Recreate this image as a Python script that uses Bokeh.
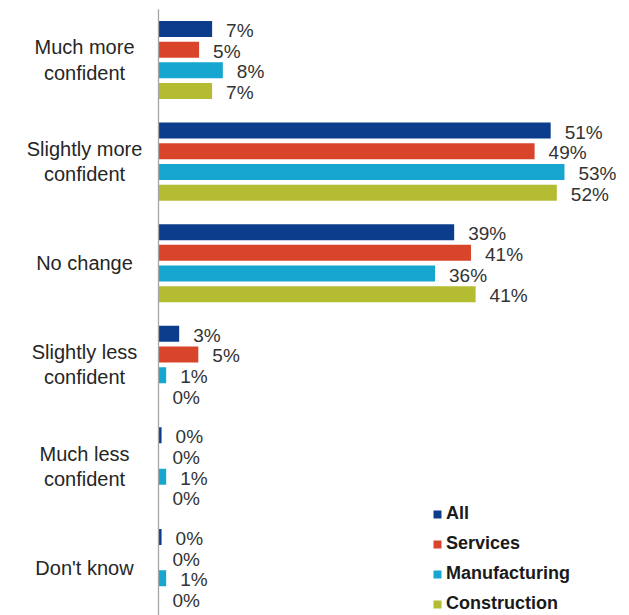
from bokeh.plotting import figure
from bokeh.models import ColumnDataSource, Range1d, Legend, LegendItem
from bokeh.core.properties import value
from bokeh.embed import file_html
from bokeh.resources import INLINE

categories = ["Much more\nconfident", "Slightly more\nconfident", "No change",
              "Slightly less\nconfident", "Much less\nconfident", "Don't know"]
series = ["All", "Services", "Manufacturing", "Construction"]
all_vals = [7.0, 51.2, 38.6, 2.7, 0.4, 0.4]
services_vals = [5.3, 49.1, 40.8, 5.2, 0.0, 0.0]
manufacturing_vals = [8.4, 53.0, 36.1, 1.0, 1.0, 1.0]
construction_vals = [7.0, 52.0, 41.4, 0.0, 0.0, 0.0]
all_labels = ["7%", "51%", "39%", "3%", "0%", "0%"]
services_labels = ["5%", "49%", "41%", "5%", "0%", "0%"]
manufacturing_labels = ["8%", "53%", "36%", "1%", "1%", "1%"]
construction_labels = ["7%", "52%", "41%", "0%", "0%", "0%"]

colors = ["#0b3d8c", "#d8452b", "#16a6cf", "#b4bc32"]
values = [all_vals, services_vals, manufacturing_vals, construction_vals]
labels = [all_labels, services_labels, manufacturing_labels, construction_labels]

PX_PER_UNIT_X = 7.66
AXIS_PX = 158
W, H = 629, 615
GROUP_PX = 101.6
FIRST_CENTER_PX = 59.5
BAR_PITCH = 20.7 / GROUP_PX
BAR_H = 16.0 / GROUP_PX

p = figure(width=W, height=H, output_backend="svg", toolbar_location=None,
           x_range=Range1d(-AXIS_PX / PX_PER_UNIT_X, (W - AXIS_PX) / PX_PER_UNIT_X),
           y_range=Range1d((H - FIRST_CENTER_PX) / GROUP_PX, -FIRST_CENTER_PX / GROUP_PX),
           min_border=0, outline_line_color=None)
p.xaxis.visible = False
p.yaxis.visible = False
p.xgrid.visible = False
p.ygrid.visible = False
p.background_fill_color = "white"

n = len(categories)
idx = list(range(n))
offsets = [(-1.5 + j) * BAR_PITCH for j in range(len(series))]

items = []
for j, name in enumerate(series):
    ys = [i + offsets[j] for i in idx]
    src = ColumnDataSource(dict(y=ys, v=values[j], lab=labels[j]))
    r = p.hbar(y="y", left=0, right="v", height=BAR_H, source=src,
               fill_color=colors[j], line_color=None)
    p.text(x="v", y="y", text="lab", source=src, x_offset=14, y_offset=1.5,
           text_font=value("Liberation Sans"), text_font_size="19px",
           text_color="#333333", text_baseline="middle", text_align="left")
    items.append(LegendItem(label=name, renderers=[r]))

# category labels
csrc = ColumnDataSource(dict(x=[0] * n, y=idx, t=categories))
p.text(x="x", y="y", text="t", source=csrc, x_offset=-74,
       text_font=value("Liberation Sans"), text_font_size="20px",
       text_color="#262626", text_baseline="middle", text_align="center",
       text_line_height=1.15)

# vertical axis line
p.segment(x0=[0], y0=[-0.5], x1=[0], y1=[n - 0.5], line_color="#a6a6a6", line_width=1.3)

legend = Legend(items=items, location=(432, 1), orientation="vertical",
                glyph_width=10, glyph_height=10, label_standoff=4,
                label_height=21, spacing=9, padding=0, margin=0,
                label_text_font="Liberation Sans", label_text_font_size="18px",
                label_text_font_style="bold", label_text_color="#1a1a1a",
                border_line_alpha=0, background_fill_alpha=0)
p.add_layout(legend)

open("out.html", "w").write(file_html(p, INLINE))
